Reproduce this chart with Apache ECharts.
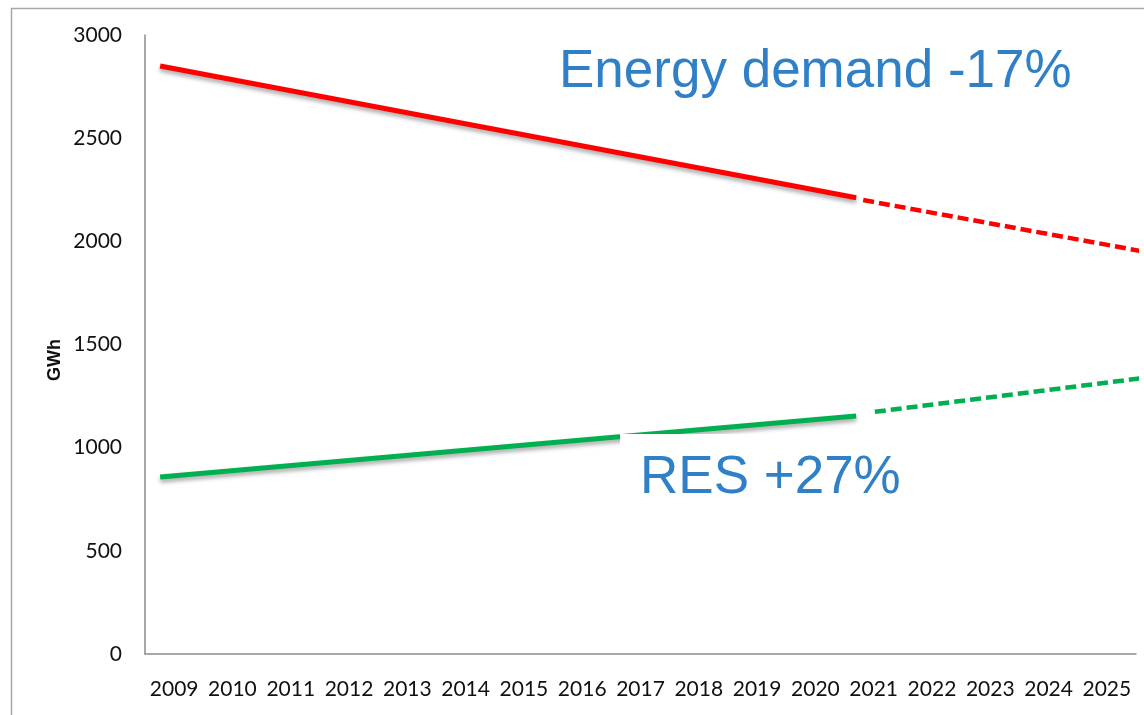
<!DOCTYPE html>
<html>
<head>
<meta charset="utf-8">
<script src="https://cdn.jsdelivr.net/npm/echarts@6/dist/echarts.min.js"></script>
<style>
  html, body { margin: 0; padding: 0; background: #fff; }
  #main { width: 1144px; height: 715px; }
</style>
</head>
<body>
<div id="main"></div>
<script>
// categories on the x axis
var years = ['2009', '2010', '2011', '2012', '2013', '2014', '2015', '2016', '2017',
  '2018', '2019', '2020', '2021', '2022', '2023', '2024', '2025'];
var yTicks = [0, 500, 1000, 1500, 2000, 2500, 3000];

// line points: [year position, GWh]
var demandActual = [[2008.76, 2850], [2020.70, 2211]];
var demandForecast = [[2020.82, 2200], [2025.64, 1950]];
var resActual = [[2008.76, 858], [2020.70, 1153]];
var resForecast = [[2021.02, 1174], [2025.64, 1338]];

var labelFont = 'Lato';
var chart = echarts.init(document.getElementById('main'));

chart.setOption({
  animation: false,
  grid: { left: 145, top: 35, right: 8, bottom: 61, containLabel: false },
  xAxis: [
    {
      type: 'category',
      data: years,
      boundaryGap: true,
      axisLine: { lineStyle: { color: '#8c8c8c', width: 1.5 } },
      axisTick: { show: false },
      axisLabel: { interval: 0, color: '#111', fontSize: 21, fontFamily: labelFont, margin: 25 }
    },
    {
      type: 'value',
      min: 2008.5,
      max: 2025.5,
      show: false
    }
  ],
  yAxis: {
    type: 'value',
    min: yTicks[0],
    max: yTicks[yTicks.length - 1],
    interval: 500,
    axisLine: { show: true, lineStyle: { color: '#8c8c8c', width: 1.5 } },
    axisTick: { show: false },
    splitLine: { show: false },
    axisLabel: {
      color: '#111', fontSize: 21, fontFamily: labelFont, margin: 23,
      formatter: function (v) { return String(v); }
    }
  },
  series: [
    {
      name: 'Energy demand',
      type: 'line',
      xAxisIndex: 1,
      data: demandActual,
      showSymbol: false,
      clip: false,
      lineStyle: { color: '#ff0000', width: 5, shadowColor: 'rgba(0,0,0,0.35)', shadowBlur: 4, shadowOffsetY: 3 }
    },
    {
      name: 'Energy demand forecast',
      type: 'line',
      xAxisIndex: 1,
      data: demandForecast,
      showSymbol: false,
      clip: false,
      lineStyle: { color: '#ff0000', width: 4.5, type: [11, 5] }
    },
    {
      name: 'RES',
      type: 'line',
      xAxisIndex: 1,
      data: resActual,
      showSymbol: false,
      clip: false,
      lineStyle: { color: '#00b050', width: 5, shadowColor: 'rgba(0,0,0,0.35)', shadowBlur: 4, shadowOffsetY: 3 }
    },
    {
      name: 'RES forecast',
      type: 'line',
      xAxisIndex: 1,
      data: resForecast,
      showSymbol: false,
      clip: false,
      lineStyle: { color: '#00b050', width: 4.5, type: [11, 5] }
    }
  ],
  graphic: [
    {
      type: 'rect',
      z: 0,
      shape: { x: 11.5, y: 8.5, width: 1200, height: 800 },
      style: { fill: 'none', stroke: '#a6a6a6', lineWidth: 1.5 }
    },
    {
      // axis title
      type: 'text',
      z: 100,
      x: 55,
      y: 360,
      rotation: Math.PI / 2,
      style: {
        text: 'GWh',
        fill: '#111',
        align: 'center',
        verticalAlign: 'middle',
        fontSize: 18,
        fontWeight: 'bold',
        fontFamily: 'Liberation Sans'
      }
    },
    {
      type: 'text',
      z: 100,
      left: 559,
      top: 46,
      style: {
        text: 'Energy demand -17%',
        fill: '#2f80c6',
        font: '53px "Liberation Sans", Arial, sans-serif'
      }
    },
    {
      type: 'rect',
      z: 99,
      shape: { x: 620, y: 434, width: 300, height: 80 },
      style: { fill: '#ffffff' }
    },
    {
      type: 'text',
      z: 100,
      left: 640,
      top: 452,
      style: {
        text: 'RES +27%',
        fill: '#2f80c6',
        font: '53px "Liberation Sans", Arial, sans-serif'
      }
    }
  ]
});
</script>
</body>
</html>
